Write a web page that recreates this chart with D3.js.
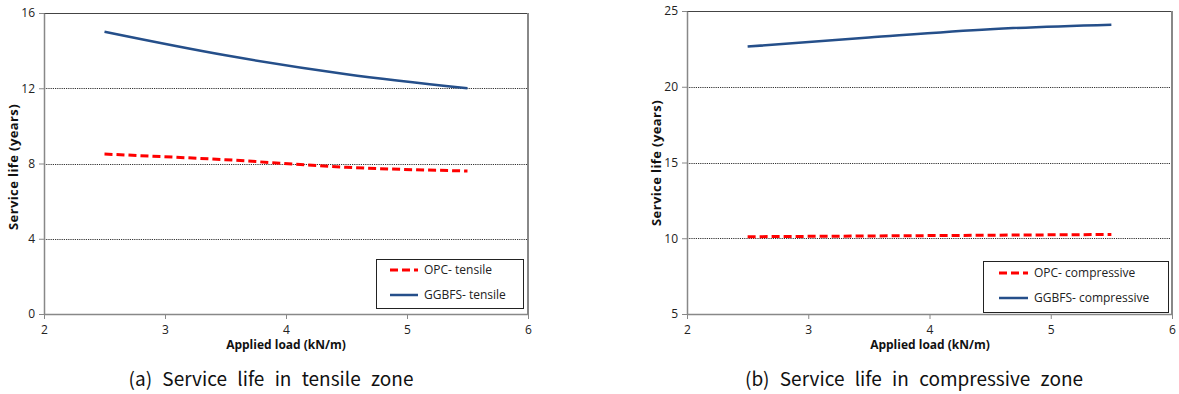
<!DOCTYPE html>
<html><head><meta charset="utf-8">
<script src="https://cdn.jsdelivr.net/npm/d3@7/dist/d3.min.js"></script>
<style>
body{margin:0;background:#fff;}
svg{display:block;}
text{font-family:"Open Sans","Noto Sans",sans-serif;}
</style></head>
<body><svg id="c" width="1179" height="394"></svg>
<script>
const loads = [2.5, 3.5, 4.5, 5.5];
const opcTensile = [8.5, 8.2, 7.8, 7.6];
const ggbfsTensile = [15.0, 13.75, 12.75, 12.0];
const opcCompressive = [10.1, 10.15, 10.2, 10.25];
const ggbfsCompressive = [22.65, 23.25, 23.8, 24.1];
const xTicks = [2, 3, 4, 5, 6];
const yTicksA = [0, 4, 8, 12, 16];
const yTicksB = [5, 10, 15, 20, 25];
const legendA = ["OPC- tensile", "GGBFS- tensile"];
const legendB = ["OPC- compressive", "GGBFS- compressive"];
const captionA = "(a) Service life in tensile zone";
const captionB = "(b) Service life in compressive zone";
const xTitle = "Applied load (kN/m)";
const yTitle = "Service life (years)";

const svg = d3.select("#c");

function panel(cfg){
  const g = svg.append("g");
  const x = d3.scaleLinear().domain([2,6]).range([cfg.left, cfg.right]);
  const y = d3.scaleLinear().domain(cfg.yDomain).range([cfg.bottom, cfg.top]);
  g.selectAll(".grid").data(cfg.yTicks.slice(1, -1)).enter().append("line")
    .attr("x1", cfg.left).attr("x2", cfg.right)
    .attr("y1", d=>Math.round(y(d))+0.5).attr("y2", d=>Math.round(y(d))+0.5)
    .attr("stroke", "#333").attr("stroke-width", 1).attr("stroke-dasharray", "1.2,1");
  g.append("line").attr("x1", cfg.left).attr("x2", cfg.right).attr("y1", cfg.top+0.5).attr("y2", cfg.top+0.5)
    .attr("stroke", "#444").attr("stroke-width", 1);
  g.append("line").attr("x1", cfg.right).attr("x2", cfg.right).attr("y1", cfg.top).attr("y2", cfg.bottom)
    .attr("stroke", "#888").attr("stroke-width", 2);
  const xa = g.append("g").attr("transform", `translate(0,${cfg.bottom})`)
    .call(d3.axisBottom(x).tickValues(xTicks).tickSize(5).tickSizeOuter(0).tickPadding(6).tickFormat(d3.format("d")));
  const ya = g.append("g").attr("transform", `translate(${cfg.left},0)`)
    .call(d3.axisLeft(y).tickValues(cfg.yTicks).tickSize(5).tickSizeOuter(0).tickPadding(4).tickFormat(d3.format("d")));
  [xa, ya].forEach(a=>{
    a.select(".domain").attr("stroke", "#888").attr("stroke-width", 1.5);
    a.selectAll(".tick line").attr("stroke", "#888");
    a.selectAll(".tick text").attr("fill", "#222").style("font-size", "12px").style("font-family", "'Open Sans',sans-serif");
  });
  const line = d3.line().x(d=>x(d[0])).y(d=>y(d[1])).curve(d3.curveMonotoneX);
  g.append("path").datum(loads.map((l,i)=>[l, cfg.opc[i]])).attr("d", line)
    .attr("fill", "none").attr("stroke", "#ff0000").attr("stroke-width", 3).attr("stroke-dasharray", "8,4");
  g.append("path").datum(loads.map((l,i)=>[l, cfg.ggbfs[i]])).attr("d", line)
    .attr("fill", "none").attr("stroke", "#254f8a").attr("stroke-width", 2.5);
  const L = cfg.legend;
  g.append("rect").attr("x", L.x+0.5).attr("y", L.y+0.5).attr("width", L.w).attr("height", L.h)
    .attr("fill", "#fff").attr("stroke", "#222").attr("stroke-width", 1);
  const styles = [{c:"#ff0000", w:3, da:"8,4"}, {c:"#254f8a", w:2.5, da:null}];
  cfg.legendLabels.forEach((t,i)=>{
    const yy = L.y + L.r0 + i*L.dy;
    g.append("line").attr("x1", L.lx1).attr("x2", L.lx2).attr("y1", yy).attr("y2", yy)
      .attr("stroke", styles[i].c).attr("stroke-width", styles[i].w).attr("stroke-dasharray", styles[i].da);
    g.append("text").attr("x", L.tx).attr("y", yy).attr("dy", "0.35em")
      .style("font-size", "12px").attr("fill", "#222").text(t);
  });
  g.append("text").attr("x", cfg.xTitleX).attr("y", cfg.bottom+35).attr("text-anchor", "middle")
    .style("font-size", "12px").style("font-weight", "bold").attr("fill", "#111").text(xTitle);
  g.append("text").attr("transform", `translate(${cfg.yTitleX},${cfg.yTitleY}) rotate(-90)`)
    .attr("text-anchor", "middle").attr("dy", "0.35em")
    .style("font-size", "13px").style("font-weight", "bold").style("letter-spacing", "0.4px")
    .attr("fill", "#111").text(yTitle);
  g.append("text").attr("x", cfg.capX).attr("y", 386).attr("text-anchor", "middle")
    .style("font-size", "19px").style("word-spacing", "6px").style("font-family", "'Noto Sans CJK KR','Noto Sans',sans-serif")
    .attr("fill", "#111").text(cfg.caption);
}

panel({left:44, right:528, top:13, bottom:314, yDomain:[0,16], yTicks:yTicksA,
  opc:opcTensile, ggbfs:ggbfsTensile, legendLabels:legendA,
  legend:{x:376, y:259, w:147, h:49, r0:11, dy:25, lx1:390, lx2:418, tx:424},
  xTitleX:286, yTitleX:13, yTitleY:167, capX:271, caption:captionA});
panel({left:687, right:1172, top:11, bottom:314, yDomain:[5,25], yTicks:yTicksB,
  opc:opcCompressive, ggbfs:ggbfsCompressive, legendLabels:legendB,
  legend:{x:983, y:261, w:185, h:51, r0:12, dy:25, lx1:999, lx2:1028, tx:1034},
  xTitleX:930, yTitleX:656, yTitleY:163, capX:914, caption:captionB});
</script></body></html>
